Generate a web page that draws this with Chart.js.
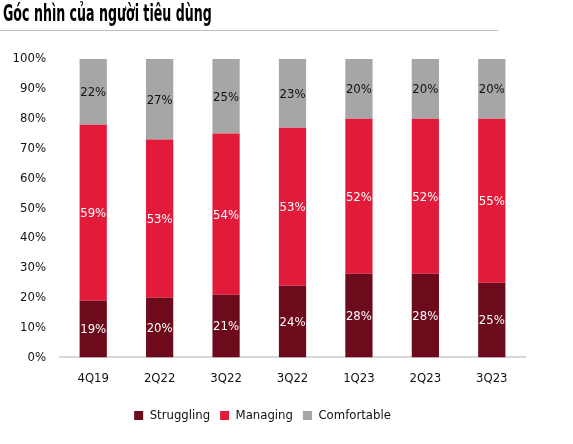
<!DOCTYPE html>
<html>
<head>
<meta charset="utf-8">
<script src="https://cdn.jsdelivr.net/npm/chart.js@4"></script>
<style>
  body { margin: 0; background: #fff; }
  #wrap { position: relative; width: 573px; height: 444px; }
  #title {
    position: absolute; left: 3px; top: 0px; white-space: nowrap;
    font-family: "Liberation Sans Narrow", "DejaVu Sans Condensed", sans-serif;
    font-weight: bold; font-size: 23px; color: #000;
    transform: scaleX(0.61); transform-origin: left top;
  }
  #rule { position: absolute; left: 0; top: 30px; width: 498px; height: 1px; background: #bfbfbf; }
  canvas { position: absolute; left: 0; top: 0; }
</style>
</head>
<body>
<div id="wrap">
  <canvas id="chart" width="573" height="444"></canvas>
  <div id="title">Góc nhìn của người tiêu dùng</div>
  <div id="rule"></div>
</div>
<script>
const quarters = ['4Q19', '2Q22', '3Q22', '3Q22', '1Q23', '2Q23', '3Q23'];
const struggling = [19, 20, 21, 24, 28, 28, 25];
const managing = [59, 53, 54, 53, 52, 52, 55];
const comfortable = [22, 27, 25, 23, 20, 20, 20];
const yTicks = [0, 10, 20, 30, 40, 50, 60, 70, 80, 90, 100];

const fontFamily = '"Liberation Sans Narrow", "DejaVu Sans Condensed", sans-serif';

// draws the % values in the middle of every segment
const segmentLabels = {
    id: 'segmentLabels',
    afterDatasetsDraw(chart) {
        const ctx = chart.ctx;
        ctx.save();
        ctx.font = '13px ' + fontFamily;
        ctx.textAlign = 'center';
        ctx.textBaseline = 'middle';
        chart.data.datasets.forEach((ds, i) => {
            chart.getDatasetMeta(i).data.forEach((bar, j) => {
                ctx.fillStyle = ds.labelColor;
                ctx.fillText(ds.data[j] + '%', bar.x, (bar.y + bar.base) / 2 + 1);
            });
        });
        ctx.restore();
    }
};

new Chart(document.getElementById('chart'), {
    type: 'bar',
    data: {
        labels: quarters,
        datasets: [
            { label: 'Struggling', data: struggling, backgroundColor: '#6d0b1c', labelColor: '#fff' },
            { label: 'Managing', data: managing, backgroundColor: '#e31b3b', labelColor: '#fff' },
            { label: 'Comfortable', data: comfortable, backgroundColor: '#a6a6a6', labelColor: '#111' }
        ]
    },
    options: {
        responsive: false,
        animation: false,
        categoryPercentage: 1,
        barPercentage: 0.41,
        layout: { padding: { top: 59, left: 0, right: 48, bottom: 12 } },
        scales: {
            x: {
                stacked: true,
                grid: { display: false, drawTicks: false },
                border: { color: '#d9d9d9', width: 2 },
                ticks: { color: '#111', font: { family: fontFamily, size: 13 }, padding: 13 }
            },
            y: {
                stacked: true,
                min: 0,
                max: 100,
                afterBuildTicks(axis) { axis.ticks = yTicks.map(v => ({ value: v })); },
                afterFit(axis) { axis.width = 60; },
                grid: { display: false, drawTicks: false },
                border: { display: false },
                ticks: { color: '#111', font: { family: fontFamily, size: 13 }, padding: 14, callback: v => v + '%' }
            }
        },
        plugins: {
            legend: {
                position: 'bottom',
                labels: {
                    boxWidth: 9, boxHeight: 9, padding: 10,
                    color: '#111', font: { family: fontFamily, size: 13 }
                }
            },
            tooltip: { enabled: false }
        }
    },
    plugins: [segmentLabels]
});
</script>
</body>
</html>
